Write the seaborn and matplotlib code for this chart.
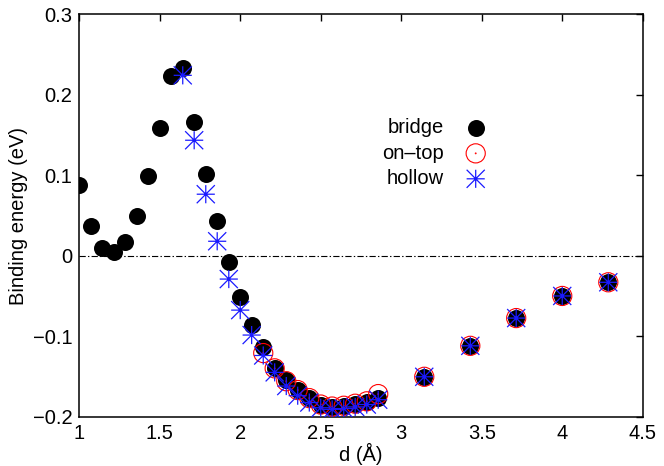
import numpy as np
import pandas as pd
import matplotlib
matplotlib.use("Agg")
import matplotlib.pyplot as plt
from matplotlib.path import Path
import seaborn as sns

# Binding energy curves for the three adsorption sites
d_bridge = [1.0, 1.071, 1.143, 1.214, 1.286, 1.357, 1.429, 1.5, 1.571, 1.643,
            1.714, 1.786, 1.857, 1.929, 2.0, 2.071, 2.143, 2.214, 2.286, 2.357,
            2.429, 2.5, 2.571, 2.643, 2.714, 2.786, 2.857,
            3.143, 3.429, 3.714, 4.0, 4.286]
e_bridge = [0.088, 0.037, 0.010, 0.0045, 0.017, 0.050, 0.099, 0.159, 0.2235, 0.234,
            0.166, 0.102, 0.043, -0.0076, -0.051, -0.086, -0.113, -0.139, -0.1545, -0.167,
            -0.177, -0.185, -0.1875, -0.1865, -0.184, -0.1815, -0.177,
            -0.1505, -0.112, -0.0775, -0.050, -0.033]

d_ontop = [2.143, 2.214, 2.286, 2.357, 2.429, 2.5, 2.571, 2.643, 2.714, 2.786, 2.857,
           3.143, 3.429, 3.714, 4.0, 4.286]
e_ontop = [-0.121, -0.140, -0.156, -0.167, -0.177, -0.185, -0.1875, -0.1865, -0.184,
           -0.181, -0.172, -0.1505, -0.112, -0.0775, -0.050, -0.033]

d_hollow = [1.643, 1.714, 1.786, 1.857, 1.929, 2.0, 2.071, 2.143, 2.214, 2.286,
            2.357, 2.429, 2.5, 2.571, 2.643, 2.714, 2.786, 2.857,
            3.143, 3.429, 3.714, 4.0, 4.286]
e_hollow = [0.2243, 0.1436, 0.0765, 0.018, -0.029, -0.0676, -0.0986, -0.124, -0.145,
            -0.162, -0.174, -0.1825, -0.189, -0.191, -0.190, -0.188, -0.185, -0.179,
            -0.1505, -0.112, -0.0775, -0.050, -0.033]

x_ticks = [1.0, 1.5, 2.0, 2.5, 3.0, 3.5, 4.0, 4.5]
x_tick_labels = ["1", "1.5", "2", "2.5", "3", "3.5", "4", "4.5"]
y_ticks = [-0.2, -0.1, 0.0, 0.1, 0.2, 0.3]
y_tick_labels = ["\u22120.2", "\u22120.1", "0", "0.1", "0.2", "0.3"]

sns.set_theme(style="white")
plt.rcParams["font.family"] = ["Liberation Sans", "DejaVu Sans"]
plt.rcParams["lines.scale_dashes"] = False
plt.rcParams["text.color"] = "black"
plt.rcParams["axes.labelcolor"] = "black"

FS = 14.5

bridge = pd.DataFrame({"d": d_bridge, "E": e_bridge})
ontop = pd.DataFrame({"d": d_ontop, "E": e_ontop})
hollow = pd.DataFrame({"d": d_hollow, "E": e_hollow})

# Marker shapes: open circle with a centre dot, and an eight-armed asterisk
ring = Path.make_compound_path(Path.circle((0, 0), 1.0), Path.circle((0, 0), 0.04))
asterisk = Path(
    [(-1, 0), (1, 0), (0, -1), (0, 1), (-1, -1), (1, 1), (-1, 1), (1, -1)],
    [Path.MOVETO, Path.LINETO] * 4,
)

fig = plt.figure(figsize=(6.64, 4.66), dpi=100)
ax = fig.add_axes([0.1193, 0.106, 0.8487, 0.863])

ax.axhline(0, color="black", lw=0.8, linestyle=(0, (4.5, 1.6, 1.0, 1.6)), zorder=1)

sns.scatterplot(data=bridge, x="d", y="E", ax=ax, marker="o", s=150,
                color="black", edgecolor="black", linewidth=0, label="bridge", zorder=2)
sns.scatterplot(data=ontop, x="d", y="E", ax=ax, marker=ring, s=190,
                color="red", facecolor="none", edgecolor="red", linewidth=0.8,
                label="on\u2013top", zorder=3)
sns.scatterplot(data=hollow, x="d", y="E", ax=ax, marker=asterisk, s=170,
                color="blue", facecolor="none", edgecolor="#1a1aff", linewidth=0.9,
                label="hollow", zorder=4)

ax.set_xlim(1.0, 4.5)
ax.set_ylim(-0.2, 0.3)
ax.set_xticks(x_ticks)
ax.set_xticklabels(x_tick_labels)
ax.set_yticks(y_ticks)
ax.set_yticklabels(y_tick_labels)
ax.tick_params(direction="in", length=5, width=1, top=True, right=True,
               labelsize=FS, colors="black", pad=5)
for sp in ax.spines.values():
    sp.set_color("black")
    sp.set_linewidth(1.1)

ax.set_xlabel("d (\u00c5)", fontsize=FS, labelpad=0)
ax.set_ylabel("Binding energy (eV)", fontsize=FS, labelpad=3)

leg = ax.legend(loc="upper right", bbox_to_anchor=(0.725, 0.742), frameon=False,
                markerfirst=False, fontsize=FS, handletextpad=1.0,
                labelspacing=0.32, borderpad=0, borderaxespad=0, handlelength=1.2)

fig.savefig("out.png", dpi=100)
